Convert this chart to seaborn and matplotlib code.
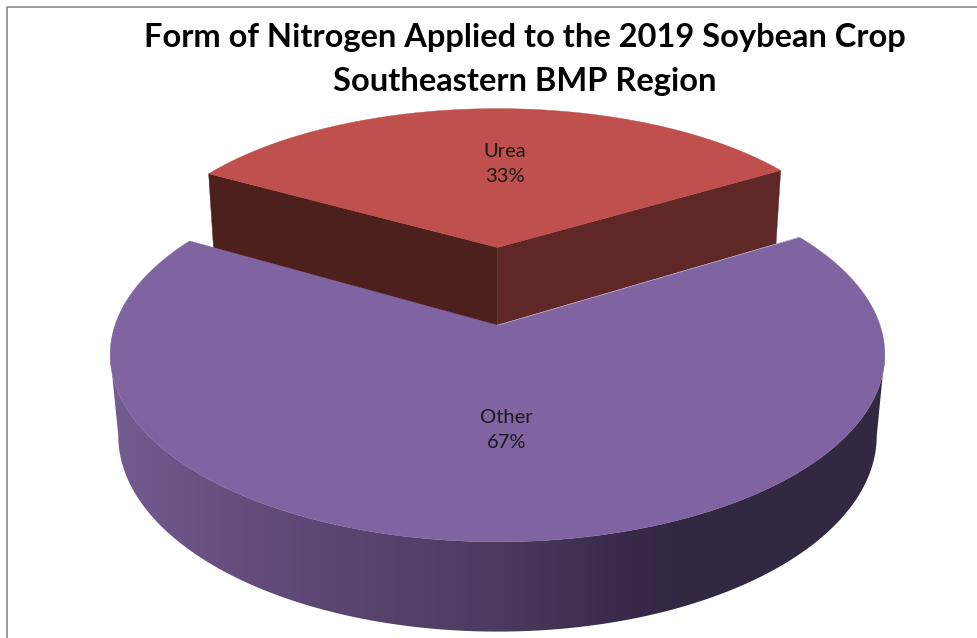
import numpy as np
import matplotlib
matplotlib.use("Agg")
import matplotlib.pyplot as plt
from matplotlib.patches import Polygon
from matplotlib.colors import LinearSegmentedColormap
import seaborn as sns

categories = ["Urea", "Other"]
shares = [33, 67]
title_lines = ["Form of Nitrogen Applied to the 2019 Soybean Crop", "Southeastern BMP Region"]

sns.set_theme(style="white")
plt.rcParams['font.family'] = ['Lato', 'DejaVu Sans']

# perspective view of the 3D pie (styling)
CX, CY, A, B, K, M, H = 497.5, 284, 369, 170, 0.151, 0.02, 80
EXPLODE_UREA, EXPLODE_OTHER = 0.222, 0.234
TILT = np.radians(-0.8)


def project(u, v, bottom=False, extra=0):
    u, v = np.asarray(u, float), np.asarray(v, float)
    w = 1 + K * v + (M if bottom else 0)
    return CX + A * u / w, CY + (-B * v + (H + extra if bottom else 0)) / w


fig = plt.figure(figsize=(9.77, 6.38), dpi=100, facecolor="white")
ax = fig.add_axes([0, 0, 1, 1])
ax.set_xlim(0, 977)
ax.set_ylim(638, 0)
ax.axis("off")

ax.plot([6.5, 6.5, 977], [638, 6.5, 6.5], color="#868686", lw=1.2, solid_capstyle="butt")

half = np.pi * shares[0] / sum(shares)  # half-angle of Urea, centred on "up"
wall_cmap = LinearSegmentedColormap.from_list(
    "w", [(0, "#745b91"), (0.18, "#634c7c"), (0.5, "#4b3b5e"), (0.665, "#39294a"), (0.745, "#322842"), (1, "#322842")])


def arc(t0, t1, n=240):
    t = np.linspace(t0, t1, n)
    return np.sin(t), np.cos(t)


# Urea slice: inner walls then top
t_left, t_right = TILT - half, TILT + half
ua, va = arc(t_left, t_right)
va = va + EXPLODE_UREA
apex = (0.0, EXPLODE_UREA)
for t, col in ((t_left, "#4d1f1d"), (t_right, "#5f2725")):
    cu, cv = np.sin(t), np.cos(t) + EXPLODE_UREA
    x1, y1 = project([apex[0], cu], [apex[1], cv])
    # the foot of the wall runs on under the Other slice
    x2, y2 = project([cu, apex[0]], [cv, apex[1]], bottom=True, extra=6)
    ax.fill(np.r_[x1, x2], np.r_[y1, y2], color=col, lw=0.3, zorder=2)
x, y = project(np.r_[apex[0], ua], np.r_[apex[1], va])
ax.fill(x, y, color="#C0504D", lw=0.3, zorder=3)

# Other slice: outer wall with gradient, then top
uo, vo = arc(t_right, t_left + 2 * np.pi, 720)
vo = vo - EXPLODE_OTHER
xt, yt = project(uo, vo)
xb, yb = project(uo, vo, bottom=True)
t0, t1 = np.argmax(xt), np.argmin(xt)
b0, b1 = np.argmax(xb), np.argmin(xb)
wall = Polygon(np.c_[np.r_[xt[t0:t1 + 1], xb[b0:b1 + 1][::-1]], np.r_[yt[t0:t1 + 1], yb[b0:b1 + 1][::-1]]],
               closed=True, transform=ax.transData, facecolor="none", edgecolor="none")
ax.add_patch(wall)
im = ax.imshow(np.linspace(0, 1, 775)[None, :], cmap=wall_cmap, vmin=0, vmax=1, aspect="auto",
               extent=(110, 885, 640, 340), zorder=4)
im.set_clip_path(wall)
ax.set_xlim(0, 977)
ax.set_ylim(638, 0)

x, y = project(np.r_[0.0, uo], np.r_[-EXPLODE_OTHER, vo])
ax.fill(x, y, color="#8064A2", lw=0.3, zorder=5)
xe, ye = project([0.0, np.sin(t_right)], [-EXPLODE_OTHER, np.cos(t_right) - EXPLODE_OTHER])
ax.plot(xe, ye, color="#cfc6da", lw=0.45, zorder=6)

# data labels
for name, val, r_v, dx in ((categories[0], shares[0], 0.79, 7), (categories[1], shares[1], -0.76, 9)):
    lx, ly = project(0.0, r_v)
    pct = round(100 * val / sum(shares))
    ax.text(lx + dx, ly, f"{name}\n{pct}%", ha="center", va="center", fontsize=14.5,
            color="#1a1a1a", linespacing=1.6, zorder=7)

# title
for line, ty in zip(title_lines, (37.5, 81)):
    ax.text(524.5, ty, line, ha="center", va="center", fontsize=23.5, fontweight="bold", color="black")

fig.savefig("out.png", dpi=100)
